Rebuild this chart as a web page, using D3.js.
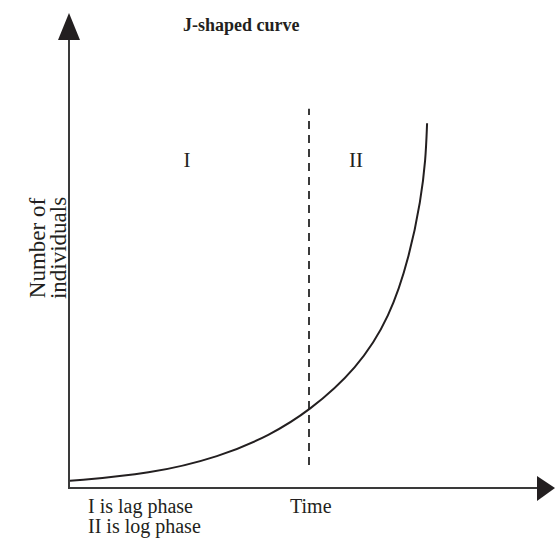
<!DOCTYPE html>
<html>
<head>
<meta charset="utf-8">
<script src="https://cdn.jsdelivr.net/npm/d3@7"></script>
<style>
  body { margin: 0; background: #fff; }
  text { font-family: "Liberation Serif", "Times New Roman", serif; fill: #231f20; }
</style>
</head>
<body>
<svg id="chart" width="555" height="540"></svg>
<script>
// curve (time, number of individuals), arbitrary units 0-100
const timeValues = [0.2, 16.9, 31.5, 41.9, 50, 60, 66.9, 71, 73.3, 74.3, 74.6]
const countValues = [1.5, 2.9, 6.5, 11, 16, 24.8, 35.6, 48.5, 60, 68.3, 76]
const phaseNames = ['I', 'II']
const phaseCenters = [24.6, 59.8]
const dividerTime = 50
const dividerSpan = [4.8, 79]
const chartTitle = 'J-shaped curve'
const yLabelLines = ['Number of', 'individuals']
const xLabel = 'Time'
const noteLines = ['I is lag phase', 'II is log phase']

const svg = d3.select('#chart')
const ink = '#231f20'

// scales: origin at the axes' corner
const x = d3.scaleLinear().domain([0, 100]).range([69, 549])
const y = d3.scaleLinear().domain([0, 100]).range([488, 8])

// axes drawn as plain arrows (no ticks in the original)
svg.append('line')
  .attr('x1', x(0)).attr('y1', y(0))
  .attr('x2', x(0)).attr('y2', 40)
  .attr('stroke', '#3a3a3a').attr('stroke-width', 2)
svg.append('path')
  .attr('d', `M${x(0) - 11},40 L${x(0) + 11},40 L${x(0)},13 Z`)
  .attr('fill', ink)

svg.append('line')
  .attr('x1', x(0) - 1).attr('y1', y(0))
  .attr('x2', 537).attr('y2', y(0))
  .attr('stroke', '#3a3a3a').attr('stroke-width', 2)
svg.append('path')
  .attr('d', `M537,${y(0) - 12} L537,${y(0) + 13} L555,${y(0)} Z`)
  .attr('fill', ink)

// dashed divider between the two phases
svg.append('line')
  .attr('x1', x(dividerTime)).attr('x2', x(dividerTime))
  .attr('y1', y(dividerSpan[0])).attr('y2', y(dividerSpan[1]))
  .attr('stroke', '#3a3a3a').attr('stroke-width', 2)
  .attr('stroke-dasharray', '8,6')

// the J curve (b-spline keeps it smooth through the hand-read points)
const curveData = timeValues.map((t, i) => ({t: t, n: countValues[i]}))
const line = d3.line()
  .x(d => x(d.t))
  .y(d => y(d.n))
  .curve(d3.curveBasis)

svg.append('path')
  .datum(curveData)
  .attr('d', line)
  .attr('fill', 'none')
  .attr('stroke', ink)
  .attr('stroke-width', 2)

// phase labels
svg.selectAll('.phase')
  .data(phaseNames)
  .join('text')
  .attr('class', 'phase')
  .attr('x', (d, i) => x(phaseCenters[i]))
  .attr('y', 167)
  .attr('text-anchor', 'middle')
  .attr('font-size', 21)
  .text(d => d)

// title
svg.append('text')
  .attr('x', 183)
  .attr('y', 31)
  .attr('font-size', 18)
  .attr('font-weight', 'bold')
  .text(chartTitle)

// y label, two rotated lines
svg.selectAll('.ylabel')
  .data(yLabelLines)
  .join('text')
  .attr('class', 'ylabel')
  .attr('transform', (d, i) => `translate(${45 + i * 21}, 248) rotate(-90)`)
  .attr('text-anchor', 'middle')
  .attr('font-size', 23)
  .text(d => d)

// x label
svg.append('text')
  .attr('x', 290)
  .attr('y', 513)
  .attr('font-size', 20)
  .text(xLabel)

// notes under the axis
svg.selectAll('.note')
  .data(noteLines)
  .join('text')
  .attr('class', 'note')
  .attr('x', 88)
  .attr('y', (d, i) => 513 + i * 20)
  .attr('font-size', 20)
  .text(d => d)
</script>
</body>
</html>
